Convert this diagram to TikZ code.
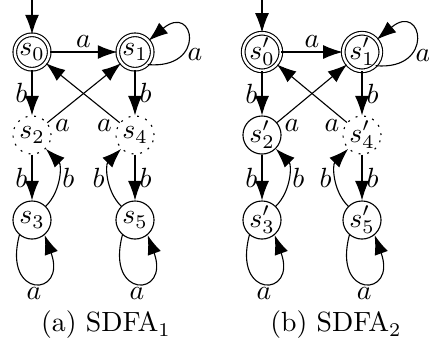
\documentclass[tikz,border=0pt]{standalone}
\usetikzlibrary{arrows.meta}
\begin{document}
\begin{tikzpicture}[x=0.36pt,y=0.36pt,
  st/.style={circle,draw,line width=0.4pt,minimum size=13.7pt,inner sep=0pt},
  acc/.style={st,double,double distance=0.9pt,minimum size=12.4pt},
  dot/.style={st,dash pattern=on 0.7pt off 2.4pt},
  arr/.style={line width=0.4pt,-{Latex[length=7pt,width=5pt]}},
  lbl/.style={inner sep=1.5pt}]
\useasboundingbox (0,-345) rectangle (429,0);
% (a)
\node[acc] (a0) at (32,-52) {$s_0$};
\node[acc] (a1) at (135,-52) {$s_1$};
\node[dot] (a2) at (32,-135) {$s_2$};
\node[dot] (a4) at (135,-135) {$s_4$};
\node[st] (a3) at (32,-220) {$s_3$};
\node[st] (a5) at (135,-220) {$s_5$};
\coordinate (ai) at (32,0);
\draw[arr] (ai) -- (a0);
\draw[arr] (a0) -- node[lbl,above]{$a$} (a1);
\draw[arr] (a1.-45) .. controls +(-5:21.6pt) and +(40:21.6pt) .. node[lbl,pos=0.3,right]{$a$} (a1.40);
\draw[arr] (a0) -- node[lbl,left]{$b$} (a2);
\draw[arr] (a1) -- node[lbl,right]{$b$} (a4);
\draw[arr] (a2) -- node[lbl,pos=0.08,below right,inner sep=0.5pt]{$a$} (a1);
\draw[arr] (a4) -- node[lbl,pos=0.08,below left,inner sep=0.5pt]{$a$} (a0);
\draw[arr] (a2) -- node[lbl,left]{$b$} (a3);
\draw[arr] (a3) to[bend right=45] node[lbl,right]{$b$} (a2);
\draw[arr] (a4) -- node[lbl,right]{$b$} (a5);
\draw[arr] (a5) to[bend left=45] node[lbl,left]{$b$} (a4);
\draw[arr] (a3.-130) .. controls +(-105:24pt) and +(-70:24pt) .. node[lbl,below]{$a$} (a3.-50);
\draw[arr] (a5.-130) .. controls +(-105:24pt) and +(-70:24pt) .. node[lbl,below]{$a$} (a5.-50);
\node (capa) at (106,-325) {(a) SDFA$_1$};
% (b)
\node[acc] (b0) at (262,-52) {$s'_0$};
\node[acc] (b1) at (362,-52) {$s'_1$};
\node[st] (b2) at (262,-135) {$s'_2$};
\node[dot] (b4) at (362,-135) {$s'_4$};
\node[st] (b3) at (262,-220) {$s'_3$};
\node[st] (b5) at (362,-220) {$s'_5$};
\coordinate (bi) at (262,0);
\draw[arr] (bi) -- (b0);
\draw[arr] (b0) -- node[lbl,above]{$a$} (b1);
\draw[arr] (b1.-45) .. controls +(-5:21.6pt) and +(40:21.6pt) .. node[lbl,pos=0.3,right]{$a$} (b1.40);
\draw[arr] (b0) -- node[lbl,left]{$b$} (b2);
\draw[arr] (b1) -- node[lbl,right]{$b$} (b4);
\draw[arr] (b2) -- node[lbl,pos=0.08,below right,inner sep=0.5pt]{$a$} (b1);
\draw[arr] (b4) -- node[lbl,pos=0.08,below left,inner sep=0.5pt]{$a$} (b0);
\draw[arr] (b2) -- node[lbl,left]{$b$} (b3);
\draw[arr] (b3) to[bend right=45] node[lbl,right]{$b$} (b2);
\draw[arr] (b4) -- node[lbl,right]{$b$} (b5);
\draw[arr] (b5) to[bend left=45] node[lbl,left]{$b$} (b4);
\draw[arr] (b3.-130) .. controls +(-105:24pt) and +(-70:24pt) .. node[lbl,below]{$a$} (b3.-50);
\draw[arr] (b5.-130) .. controls +(-105:24pt) and +(-70:24pt) .. node[lbl,below]{$a$} (b5.-50);
\node (capb) at (336,-325) {(b) SDFA$_2$};
\end{tikzpicture}
\end{document}
